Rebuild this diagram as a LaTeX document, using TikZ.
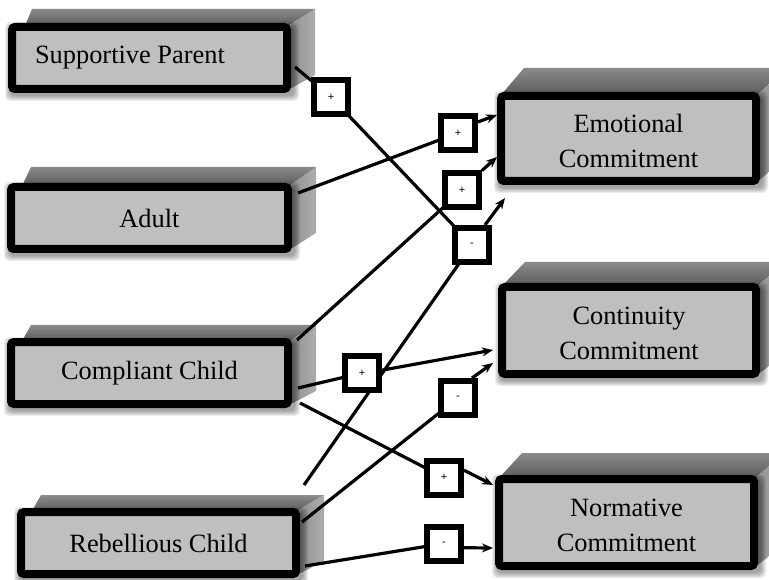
\documentclass[tikz,border=0pt]{standalone}
\usepackage{fontspec}
\setmainfont{Liberation Serif}
\setsansfont{Liberation Sans}
\usetikzlibrary{arrows.meta}

\definecolor{faceC}{gray}{0.75}
\definecolor{topA}{gray}{0.36}
\definecolor{topB}{gray}{0.54}
\definecolor{sideA}{gray}{0.68}
\definecolor{sideB}{gray}{0.56}

\pgfdeclarelayer{back}
\pgfdeclarelayer{links}
\pgfsetlayers{back,links,main}

\tikzset{
  slabfront/.style={draw=black, line width=8pt, fill=faceC, rounded corners=3pt,
    inner sep=0pt, align=center, font=\fontsize{26.4}{34.5}\selectfont},
  signbox/.style={draw=black, line width=6pt, fill=white, minimum size=34pt,
    inner sep=0pt, font=\sffamily\fontsize{11}{11}\selectfont},
  link/.style={line width=3.2pt, draw=black},
  arrowlink/.style={link, -{Stealth[length=11pt,width=9pt]}}
}

% taller first line, so two-line labels sit a little lower
\newcommand\tallstrut{\rule{0pt}{23pt}}

% 3-D slab: name, x1, y1, x2, y2, depth, left-edge start, side offset, text
\newcommand\slab[9]{%
  \shade[top color=topB, bottom color=topA]
    ({#2+#7},{#3+3}) -- ({#2+#8},{#3-#6}) -- ({#4+#8},{#3-#6}) -- ({#4-3},{#3+3}) -- cycle;
  \shade[left color=sideB, right color=sideA]
    ({#4-3},{#3+3}) -- ({#4+#8},{#3-#6}) -- ({#4+#8},{#5-#6-4}) -- ({#4-3},{#5-3}) -- cycle;
  \foreach \k in {1,...,6}{%
    \fill[black, opacity=0.07, rounded corners=5pt]
      ({#2+3-\k},{#3+5-\k}) rectangle ({#4+2+\k},{#5+2+\k});}
  \node[slabfront, minimum width={#4-#2-8}, minimum height={#5-#3-8}]
    (#1) at ({(#2+#4)/2},{(#3+#5)/2}) {#9};
}

\begin{document}
\begin{tikzpicture}[x=1pt, y=-1pt]
\useasboundingbox (0,0) rectangle (769,580);

\begin{pgfonlayer}{back}
  % sources
  \slab{sp}{8}{23}{291}{93}{14}{17}{24}{\makebox[229pt][l]{Supportive Parent}}
  \slab{ad}{7}{183}{292}{253}{16}{15}{24}{Adult}
  \slab{cc}{7}{338}{292}{408}{13}{15}{24}{Compliant Child}
  \slab{rc}{17}{508}{300}{578}{13}{15}{24}{Rebellious Child}
  % outcomes
  \slab{ec}{497}{92}{760}{185}{24}{4}{27}{\tallstrut Emotional\\Commitment}
  \slab{co}{498}{283}{760}{378}{21}{4}{27}{\tallstrut Continuity\\Commitment}
  \slab{no}{495}{475}{758}{570}{22}{4}{27}{\tallstrut Normative\\Commitment}
\end{pgfonlayer}

% sign markers
\node[signbox] (s1) at (331,97) {+};
\node[signbox] (s2) at (458,133) {+};
\node[signbox] (s3) at (462,190.5) {+};
\node[signbox] (s4) at (472,245) {-};
\node[signbox] (s5) at (362,373) {+};
\node[signbox] (s6) at (458,398) {-};
\node[signbox] (s7) at (444,477.5) {+};
\node[signbox] (s8) at (444,543.5) {-};

% line ends
\coordinate (spOut) at (295,67);
\coordinate (adOut) at (298,193);
\coordinate (ccOutA) at (297,340);
\coordinate (ccOutB) at (298,388);
\coordinate (ccOutC) at (300,403);
\coordinate (rcOutA) at (304,485);
\coordinate (rcOutB) at (302,522);
\coordinate (rcOutC) at (305,566);
\coordinate (ecIn1) at (497,115);
\coordinate (ecIn2) at (497,157);
\coordinate (ecIn3) at (505,198);
\coordinate (coIn1) at (493,350);
\coordinate (coIn2) at (493,363);
\coordinate (noIn1) at (493,485);
\coordinate (noIn2) at (493,548);

\begin{pgfonlayer}{links}
  \draw[link] (spOut) -- (s1.center) -- (s4.center);
  \draw[link] (rcOutA) -- (s4.center);
  \draw[arrowlink] (s4.57) -- (ecIn3);
  \draw[link] (adOut) -- (s2.center);
  \draw[arrowlink] (s2.29) -- (ecIn1);
  \draw[link] (ccOutA) -- (s3.center);
  \draw[arrowlink] (s3.45) -- (ecIn2);
  \draw[link] (ccOutB) -- (s5.center);
  \draw[arrowlink] (s5.8) -- (coIn1);
  \draw[link] (rcOutB) -- (s6.center);
  \draw[arrowlink] (s6.55) -- (coIn2);
  \draw[link] (ccOutC) -- (s7.center);
  \draw[arrowlink] (s7.20) -- (noIn1);
  \draw[link] (rcOutC) -- (s8.center);
  \draw[arrowlink] (s8.-12) -- (noIn2);
\end{pgfonlayer}
\end{tikzpicture}
\end{document}
